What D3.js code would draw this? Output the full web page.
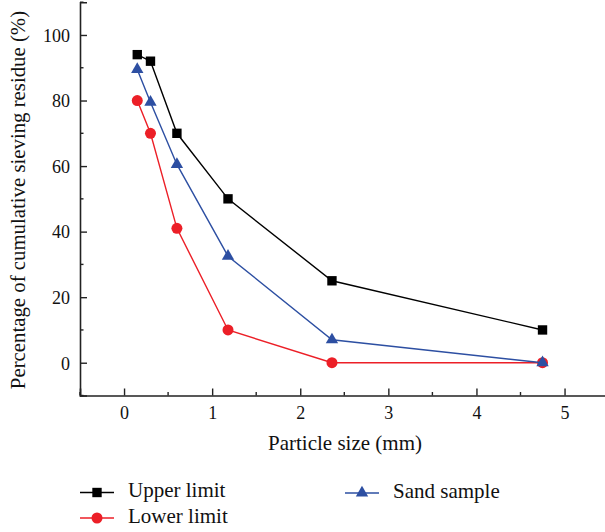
<!DOCTYPE html>
<html><head><meta charset="utf-8">
<script src="https://cdn.jsdelivr.net/npm/d3@7/dist/d3.min.js"></script>
<style>body{margin:0;background:#fff}svg{display:block}svg text{font-family:"Liberation Serif","Times New Roman",serif;fill:#111}</style>
</head><body>
<svg id="c" width="605" height="532"></svg>
<script>
const particleSizes = [0.15, 0.3, 0.6, 1.18, 2.36, 4.75];
const upperLimit = [94, 92, 70, 50, 25, 10];
const lowerLimit = [80, 70, 41, 10, 0, 0];
const sandSample = [89.5, 79.5, 60.5, 32.5, 7, 0];
const xTicks = [0, 1, 2, 3, 4, 5];
const yTicks = [0, 20, 40, 60, 80, 100];
const seriesNames = ["Upper limit", "Lower limit", "Sand sample"];

const svg = d3.select("#c");
const x = d3.scaleLinear().domain([-0.5, 5.5]).range([80, 608.6]);
const y = d3.scaleLinear().domain([-10, 110]).range([395.5, 2.2]);
const axisColor = "#222";

const xAxis = d3.axisBottom(x).tickValues(xTicks).tickSize(-7).tickPadding(11).tickFormat(d3.format("d"));
const gx = svg.append("g").attr("transform", `translate(0,${y(-10)})`).call(xAxis);
gx.append("g").selectAll("line").data(d3.range(-0.5, 5.51, 1)).join("line")
  .attr("x1", d => x(d)).attr("x2", d => x(d)).attr("y1", 0).attr("y2", -3.5);
const yAxis = d3.axisLeft(y).tickValues(yTicks).tickSize(-7).tickPadding(10);
const gy = svg.append("g").attr("transform", `translate(${x(-0.5)},0)`).call(yAxis);
gy.append("g").selectAll("line").data(d3.range(-10, 111, 20)).join("line")
  .attr("y1", d => y(d)).attr("y2", d => y(d)).attr("x1", 0).attr("x2", 3.5);
[gx, gy].forEach(g => {
  g.select(".domain").attr("stroke", axisColor).attr("stroke-width", 1.6);
  g.selectAll("line").attr("stroke", axisColor).attr("stroke-width", 1.4);
  g.selectAll("text").style("font-size", "18px");
});
gx.selectAll(".tick text").attr("dy", "0.71em");
gy.selectAll(".tick text").attr("dy", "0.35em");

svg.append("text").attr("x", 345).attr("y", 450).attr("text-anchor", "middle")
  .style("font-size", "21px").text("Particle size (mm)");
svg.append("text").attr("transform", "translate(25,200) rotate(-90)").attr("text-anchor", "middle")
  .style("font-size", "20.8px").text("Percentage of cumulative sieving residue (%)");

const series = [
  {name: seriesNames[0], vals: upperLimit, color: "#000000", sym: d3.symbolSquare, size: 88},
  {name: seriesNames[1], vals: lowerLimit, color: "#ec1f27", sym: d3.symbolCircle, size: 95},
  {name: seriesNames[2], vals: sandSample, color: "#2d4fa2", sym: d3.symbolTriangle, size: 66}
];
const line = d3.line().x(d => x(d[0])).y(d => y(d[1]));
series.forEach(s => {
  const pts = particleSizes.map((p, i) => [p, s.vals[i]]);
  svg.append("path").attr("d", line(pts)).attr("fill", "none").attr("stroke", s.color).attr("stroke-width", 1.4);
  svg.append("g").selectAll("path").data(pts).join("path")
    .attr("d", d3.symbol().type(s.sym).size(s.size))
    .attr("transform", d => `translate(${x(d[0])},${y(d[1])})`)
    .attr("fill", s.color);
});

const leg = [
  {s: series[0], lx: 80, ly: 492.5},
  {s: series[1], lx: 80, ly: 518},
  {s: series[2], lx: 345, ly: 493}
];
leg.forEach(l => {
  const g = svg.append("g");
  g.append("line").attr("x1", l.lx).attr("x2", l.lx + 34).attr("y1", l.ly).attr("y2", l.ly)
    .attr("stroke", l.s.color).attr("stroke-width", 1.4);
  g.append("path").attr("d", d3.symbol().type(l.s.sym).size(l.s.size))
    .attr("transform", `translate(${l.lx + 17},${l.ly})`).attr("fill", l.s.color);
  g.append("text").attr("x", l.lx + 48).attr("y", l.ly + 4.5)
    .style("font-size", "21px").text(l.s.name);
});
</script>
</body></html>
